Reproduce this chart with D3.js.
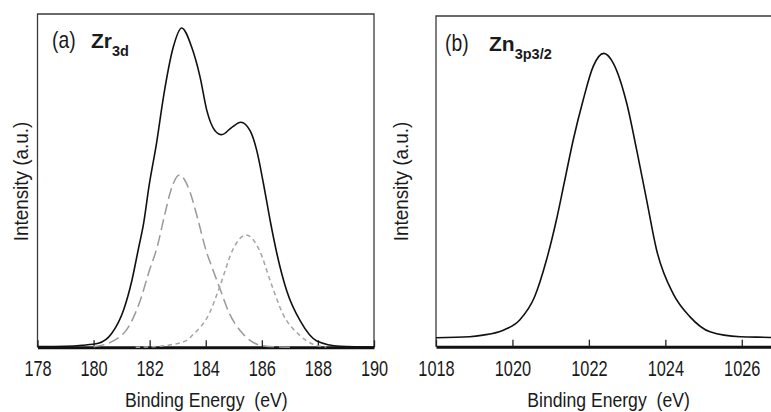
<!DOCTYPE html>
<html>
<head>
<meta charset="utf-8">
<script src="https://cdn.jsdelivr.net/npm/d3@7"></script>
<style>
  html, body { margin: 0; padding: 0; background: #fff; }
  svg { display: block; }
  .narrow { font-family: 'Liberation Sans Narrow', 'Arial Narrow', 'Liberation Sans', Arial, sans-serif; fill: #1a1a1a; }
  .bold { font-family: 'Liberation Sans', Arial, sans-serif; font-weight: bold; fill: #1a1a1a; }
</style>
</head>
<body>
<script>
// ---- Zr 3d spectrum (panel a) ----
const zrTicks = [178, 180, 182, 184, 186, 188, 190];
const zrTotalEnergy = [178.0, 179.0, 179.6, 180.17, 180.65, 181.07, 181.37, 181.59, 181.79, 181.97,
  182.25, 182.49, 182.84, 183.14, 183.5, 183.8, 184.04, 184.33, 184.57, 184.93, 185.25, 185.58,
  185.82, 186.06, 186.3, 186.54, 186.89, 187.37, 187.96, 188.8, 190.0];
const zrTotalIntensity = [0.2, 0.3, 0.6, 1.2, 4.2, 11.2, 20.2, 29.2, 37.5, 48.0,
  61.5, 75.0, 90.0, 95.8, 90.0, 81.0, 71.0, 65.0, 63.8, 66.0, 67.5, 65.0,
  59.0, 49.0, 37.9, 28.0, 16.9, 7.9, 1.9, 0.3, 0.1];
// fitted component at lower binding energy (long dashes)
const zrFit1Energy = [180.0, 180.65, 181.25, 181.67, 181.97, 182.27, 182.52, 182.76, 183.06,
  183.4, 183.7, 184.03, 184.2, 184.48, 184.84, 185.31, 185.91, 186.5, 187.0];
const zrFit1Intensity = [0.2, 1.7, 6.2, 14.2, 22.5, 30.2, 39.2, 47.2, 51.7,
  47.5, 39.0, 28.5, 24.5, 18.2, 10.2, 4.2, 0.7, 0.1, 0.0];
// fitted component at higher binding energy (short dashes)
const zrFit2Energy = [181.5, 182.3, 182.7, 183.3, 183.53, 184.13, 184.54, 184.96, 185.44,
  185.91, 186.33, 186.74, 187.34, 187.8, 188.3];
const zrFit2Intensity = [0.0, 0.3, 0.7, 2.0, 3.7, 10.2, 19.2, 29.2, 33.7,
  29.2, 19.2, 10.2, 3.7, 1.0, 0.1];

// ---- Zn 3p3/2 spectrum (panel b) ----
const znTicks = [1018, 1020, 1022, 1024, 1026];
const znEnergy = [1018.0, 1018.88, 1019.23, 1019.76, 1020.19, 1020.58, 1020.89, 1021.15, 1021.37,
  1021.59, 1021.85, 1022.11, 1022.39, 1022.64, 1022.99, 1023.25, 1023.51, 1023.77, 1024.2,
  1024.64, 1025.17, 1025.96, 1026.77, 1027.0];
const znIntensity = [2.7, 3.0, 3.5, 5.0, 8.1, 15.1, 26.2, 38.3, 50.4,
  62.5, 74.6, 84.7, 88.7, 85.7, 73.6, 59.5, 44.4, 29.3, 16.1,
  9.1, 4.5, 3.0, 2.8, 2.7];

const svg = d3.select("body").append("svg")
  .attr("width", 771).attr("height", 412);

// condensed look for the plain text: squeeze glyphs horizontally
const SQUEEZE_TICK = 0.76;
const SQUEEZE_TITLE = 0.86;

function panel(opts) {
  const x = d3.scaleLinear().domain(opts.xDomain).range(opts.xRange);
  const y = d3.scaleLinear().domain([0, 100]).range([opts.bottom, opts.top]);
  const g = svg.append("g");

  // left, top, right frame lines
  const [x0, x1] = opts.xRange;
  g.append("path")
    .attr("d", `M${x0},${opts.bottom}V${opts.top}H${x1}V${opts.bottom}`)
    .attr("fill", "none").attr("stroke", "#3a3a3a").attr("stroke-width", 1.3);

  // bottom axis with inward ticks
  const axis = d3.axisBottom(x).tickValues(opts.ticks).tickFormat(d3.format("d"))
    .tickSizeInner(-7).tickSizeOuter(0).tickPadding(0);
  const ag = g.append("g").attr("transform", `translate(0,${opts.bottom})`).call(axis);
  ag.attr("font-family", null).attr("font-size", null);
  ag.select(".domain").attr("stroke", "#111").attr("stroke-width", 3);
  ag.selectAll(".tick line").attr("stroke", "#222").attr("stroke-width", 1.3);
  ag.selectAll(".tick text").attr("class", "narrow")
    .attr("font-size", 21.5).attr("fill", "#1a1a1a")
    .attr("y", 0).attr("dy", null)
    .attr("transform", `translate(0,29) scale(${SQUEEZE_TICK},1)`);

  // axis titles
  g.append("text").attr("class", "narrow")
    .attr("transform", `translate(${(x0 + x1) / 2 + 0.5},407) scale(${SQUEEZE_TITLE},1)`)
    .attr("text-anchor", "middle").attr("font-size", 20.5)
    .style("white-space", "pre")
    .text("Binding Energy  (eV)");
  g.append("text").attr("class", "narrow")
    .attr("transform", `translate(${opts.yTitleX},181.5) rotate(-90) scale(0.9,1)`)
    .attr("text-anchor", "middle").attr("font-size", 21)
    .text("Intensity (a.u.)");

  // panel label
  g.append("text").attr("class", "narrow")
    .attr("transform", `translate(${opts.labelX},${opts.labelY}) scale(0.84,1)`)
    .attr("font-size", 23).text(opts.tag);
  const el = g.append("text").attr("class", "bold")
    .attr("x", opts.elemX).attr("y", opts.labelY);
  el.append("tspan").attr("font-size", 21).text(opts.elem);
  el.append("tspan").attr("font-size", 14.5).attr("dy", 8).text(opts.orbital);

  const line = d3.line().x(d => x(d[0])).y(d => y(d[1])).curve(d3.curveMonotoneX);

  (opts.series || []).forEach(s => {
    g.append("path")
      .attr("d", line(d3.zip(s.energy, s.intensity)))
      .attr("fill", "none")
      .attr("stroke", s.color)
      .attr("stroke-width", s.width)
      .attr("stroke-dasharray", s.dash || null);
  });
}

panel({
  xDomain: [178, 190], xRange: [37.5, 374], top: 14, bottom: 347.3,
  ticks: zrTicks, yTitleX: 28, labelX: 52, labelY: 48, elemX: 91,
  tag: "(a)", elem: "Zr", orbital: "3d",
  series: [
    { energy: zrFit1Energy, intensity: zrFit1Intensity, color: "#9a9a9a", width: 1.5, dash: "11,5" },
    { energy: zrFit2Energy, intensity: zrFit2Intensity, color: "#a5a5a5", width: 1.5, dash: "4.5,3.5" },
    { energy: zrTotalEnergy, intensity: zrTotalIntensity, color: "#111", width: 1.6 }
  ]
});

panel({
  xDomain: [1018, 1027], xRange: [436, 780], top: 16, bottom: 346.7,
  ticks: znTicks, yTitleX: 408, labelX: 445, labelY: 50.5, elemX: 489,
  tag: "(b)", elem: "Zn", orbital: "3p3/2",
  series: [
    { energy: znEnergy, intensity: znIntensity, color: "#111", width: 1.6 }
  ]
});
</script>
</body>
</html>
